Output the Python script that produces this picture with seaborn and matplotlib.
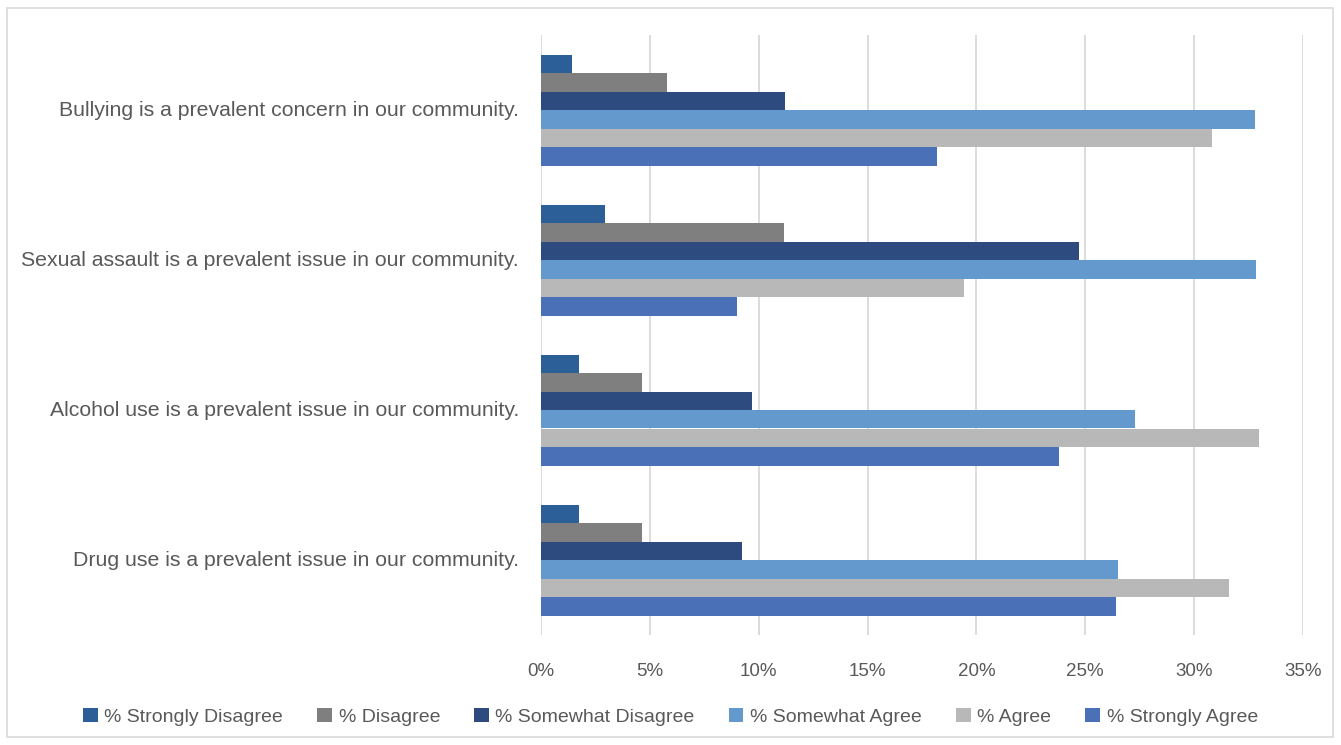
import matplotlib
matplotlib.use("Agg")
import matplotlib.pyplot as plt
import seaborn as sns
import pandas as pd
from matplotlib.ticker import FuncFormatter
from matplotlib.patches import Rectangle

categories = [
    "Bullying is a prevalent concern in our community.",
    "Sexual assault is a prevalent issue in our community.",
    "Alcohol use is a prevalent issue in our community.",
    "Drug use is a prevalent issue in our community.",
]
series_names = ["% Strongly Disagree", "% Disagree", "% Somewhat Disagree",
                "% Somewhat Agree", "% Agree", "% Strongly Agree"]
strongly_disagree = [1.42, 2.94, 1.74, 1.74]
disagree = [5.78, 11.15, 4.63, 4.63]
somewhat_disagree = [11.19, 24.7, 9.68, 9.25]
somewhat_agree = [32.8, 32.85, 27.3, 26.5]
agree = [30.8, 19.45, 33.0, 31.6]
strongly_agree = [18.17, 9.0, 23.8, 26.4]
x_ticks = [0, 5, 10, 15, 20, 25, 30, 35]

colors = ["#2C5F97", "#7F7F7F", "#2E4B80", "#6399CC", "#B8B8B8", "#4A70B7"]

series_values = [strongly_disagree, disagree, somewhat_disagree,
                 somewhat_agree, agree, strongly_agree]
rows = []
for name, vals in zip(series_names, series_values):
    for cat, v in zip(categories, vals):
        rows.append({"Category": cat, "Series": name, "Value": v})
df = pd.DataFrame(rows)

sns.set_theme(style="white")
plt.rcParams['font.family'] = ['Liberation Sans', 'DejaVu Sans']

fig = plt.figure(figsize=(13.41, 7.45), dpi=100)
ax = fig.add_axes([541 / 1341, 1 - 635 / 745, (1303 - 541) / 1341, (635 - 35) / 745])

sns.barplot(data=df, y="Category", x="Value", hue="Series", order=categories,
            hue_order=series_names, palette=colors, orient="h", width=0.74,
            ax=ax, saturation=1, errorbar=None, legend=True, linewidth=0)

ax.set_xlim(0, 35)
ax.set_xticks(x_ticks)
ax.xaxis.set_major_formatter(FuncFormatter(lambda v, p: f"{int(round(v))}%"))
ax.grid(axis="x", color="#D9D9D9", linewidth=1.3)
ax.grid(axis="y", visible=False)
ax.set_axisbelow(True)
for s in ax.spines.values():
    s.set_visible(False)
ax.set_xlabel("")
ax.set_ylabel("")
ax.tick_params(axis="both", length=0, colors="#595959", labelsize=13.5)
ax.tick_params(axis="y", labelsize=15.3, pad=16)
ax.tick_params(axis="x", pad=20)
for lbl in ax.get_yticklabels():
    lbl.set_verticalalignment("center")
    lbl.set_y(lbl.get_position()[1])

handles, labels = ax.get_legend_handles_labels()
ax.get_legend().remove()
leg = fig.legend(handles, labels, loc="center", bbox_to_anchor=(0.5, 1 - 717 / 745),
                 ncol=6, frameon=False, fontsize=14, handlelength=0.75,
                 handleheight=0.75, handletextpad=0.35, columnspacing=1.75)
for t in leg.get_texts():
    t.set_color("#595959")

fig.patches.append(Rectangle((7 / 1341, 8 / 745), 1 - 15 / 1341, 1 - 16 / 745,
                             transform=fig.transFigure, fill=False,
                             edgecolor="#D9D9D9", linewidth=1.2))

fig.savefig("out.png", dpi=100)
